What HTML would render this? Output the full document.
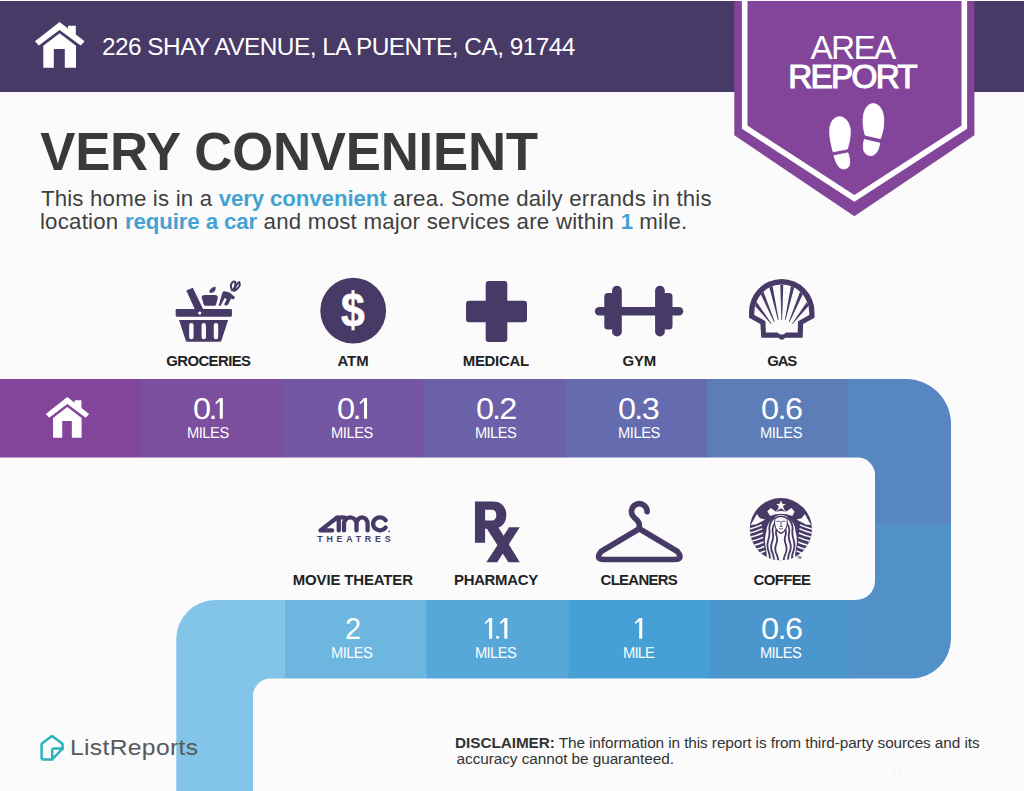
<!DOCTYPE html>
<html><head><meta charset="utf-8">
<style>
html,body{margin:0;padding:0;}
body{width:1024px;height:791px;overflow:hidden;background:#fbfbfb;font-family:"Liberation Sans",sans-serif;position:relative;}
.abs{position:absolute;white-space:nowrap;}
#hdr{left:0;top:1px;width:1024px;height:90.7px;background:#473a66;}
#addr{left:102px;top:33px;font-size:23px;line-height:26px;color:#fff;}
#title{left:38px;top:124px;font-size:49px;line-height:54px;font-weight:bold;color:#3a3a3c;}
.p{left:40px;font-size:21.5px;line-height:24px;color:#3f3f41;}
.p b{color:#44a2d2;letter-spacing:-0.1px;}
.lab{font-size:14.5px;line-height:16px;font-weight:bold;color:#222;}
.num{font-size:27px;line-height:28px;color:#fff;}
.mi{font-size:14.5px;line-height:16px;color:#fff;}
.disc{color:#333;}
#lr{left:72px;top:733px;font-size:25px;line-height:30px;color:#58595b;}
/*FIT*/
#addr{left:101.9px;top:32.6px;font-size:24.42px;line-height:28px;letter-spacing:-0.525px;}
#title{left:40.2px;top:120.7px;font-size:52.75px;line-height:61px;letter-spacing:-0.243px;}
#p1{left:40.9px;top:185.7px;font-size:22.25px;line-height:26px;letter-spacing:0.187px;}
#p2{left:39.9px;top:208.6px;font-size:22.25px;line-height:26px;letter-spacing:0.237px;}
#area{left:810.6px;top:27.5px;font-size:33.48px;line-height:39px;letter-spacing:-1.8px;}
#report{left:788.3px;top:57.8px;font-size:33.33px;line-height:38px;letter-spacing:-1.77px;}
#l1{left:166.2px;top:351.5px;font-size:14.93px;line-height:17px;letter-spacing:-0.587px;}
#l2{left:337.4px;top:351.5px;font-size:14.93px;line-height:17px;letter-spacing:0.0px;}
#l3{left:462.8px;top:351.5px;font-size:14.93px;line-height:17px;letter-spacing:-0.283px;}
#l4{left:622.6px;top:351.5px;font-size:14.93px;line-height:17px;letter-spacing:-0.25px;}
#l5{left:767.2px;top:351.5px;font-size:14.93px;line-height:17px;letter-spacing:-1.15px;}
#l6{left:292.8px;top:570.8px;font-size:14.93px;line-height:17px;letter-spacing:-0.117px;}
#l7{left:454.0px;top:570.8px;font-size:14.93px;line-height:17px;letter-spacing:-0.3px;}
#l8{left:600.6px;top:570.8px;font-size:14.93px;line-height:17px;letter-spacing:-0.7px;}
#l9{left:753.6px;top:570.8px;font-size:14.93px;line-height:17px;letter-spacing:-0.62px;}
#n1{left:192.6px;top:391.8px;font-size:30.0px;line-height:34px;letter-spacing:-2.278px;transform-origin:0 0;transform:rotate(0.1deg) scale(1.08,1.0);}
#m1{left:187.2px;top:423.8px;font-size:15.8px;line-height:18px;letter-spacing:-0.505px;transform-origin:0 0;transform:rotate(0.1deg) scale(0.93,1.0);}
#n2{left:336.8px;top:391.8px;font-size:30.0px;line-height:34px;letter-spacing:-2.278px;transform-origin:0 0;transform:rotate(0.1deg) scale(1.08,1.0);}
#m2{left:331.4px;top:423.8px;font-size:15.8px;line-height:18px;letter-spacing:-0.452px;transform-origin:0 0;transform:rotate(0.1deg) scale(0.93,1.0);}
#n3{left:475.8px;top:391.8px;font-size:30.0px;line-height:34px;letter-spacing:-1.713px;transform-origin:0 0;transform:rotate(0.1deg) scale(1.08,1.0);}
#m3{left:475.0px;top:423.8px;font-size:15.8px;line-height:18px;letter-spacing:-0.64px;transform-origin:0 0;transform:rotate(0.1deg) scale(0.93,1.0);}
#n4{left:617.8px;top:391.8px;font-size:30.0px;line-height:34px;letter-spacing:-1.528px;transform-origin:0 0;transform:rotate(0.1deg) scale(1.08,1.0);}
#m4{left:617.7px;top:423.8px;font-size:15.8px;line-height:18px;letter-spacing:-0.478px;transform-origin:0 0;transform:rotate(0.1deg) scale(0.93,1.0);}
#n5{left:761.2px;top:391.8px;font-size:30.0px;line-height:34px;letter-spacing:-1.343px;transform-origin:0 0;transform:rotate(0.1deg) scale(1.08,1.0);}
#m5{left:760.4px;top:423.8px;font-size:15.8px;line-height:18px;letter-spacing:-0.425px;transform-origin:0 0;transform:rotate(0.1deg) scale(0.93,1.0);}
#n6{left:344.8px;top:611.6px;font-size:30.0px;line-height:34px;letter-spacing:0px;transform-origin:0 0;transform:rotate(0.1deg) scale(0.96,1.0);}
#m6{left:331.4px;top:643.6px;font-size:15.8px;line-height:18px;letter-spacing:-0.613px;transform-origin:0 0;transform:rotate(0.1deg) scale(0.93,1.0);}
#m7{left:475.0px;top:643.6px;font-size:15.8px;line-height:18px;letter-spacing:-0.64px;transform-origin:0 0;transform:rotate(0.1deg) scale(0.93,1.0);}
#m8{left:622.6px;top:643.6px;font-size:15.8px;line-height:18px;letter-spacing:-0.889px;transform-origin:0 0;transform:rotate(0.1deg) scale(0.93,1.0);}
#n9{left:760.9px;top:611.6px;font-size:30.0px;line-height:34px;letter-spacing:-1.389px;transform-origin:0 0;transform:rotate(0.1deg) scale(1.08,1.0);}
#m9{left:760.3px;top:643.6px;font-size:15.8px;line-height:18px;letter-spacing:-0.64px;transform-origin:0 0;transform:rotate(0.1deg) scale(0.93,1.0);}
#lr{left:70.2px;top:734.4px;font-size:22.83px;line-height:26px;letter-spacing:0.302px;transform-origin:0 0;transform:scale(1.08,1.0);}
#dollar{left:341.0px;top:282.1px;font-size:48.23px;line-height:55px;letter-spacing:0px;transform-origin:0 0;transform:scale(0.8852,1.0);}
#d1{left:455.1px;top:733.9px;font-size:15.36px;line-height:18px;letter-spacing:-0.091px;}
#d2{left:456.6px;top:749.7px;font-size:15.36px;line-height:18px;letter-spacing:-0.072px;}
/*ENDFIT*/
</style></head><body>
<!-- BAND -->
<svg class="abs" style="left:0;top:0" width="1024" height="791" viewBox="0 0 1024 791">
<!-- top row -->
<rect x="0" y="379" width="140" height="78.5" fill="#82459a"/>
<rect x="139.5" y="379" width="144" height="78.5" fill="#7b4e9e"/>
<rect x="282.5" y="379" width="142" height="78.5" fill="#7556a2"/>
<rect x="423.5" y="379" width="143" height="78.5" fill="#6b61a9"/>
<rect x="565.5" y="379" width="143" height="78.5" fill="#646bae"/>
<rect x="707" y="379" width="142" height="78.5" fill="#5c7db8"/>
<path d="M848 379 H906 A45 45 0 0 1 951 424 V524.5 H875 V475 A17.5 17.5 0 0 0 857.5 457.5 H848 Z" fill="#5886c1"/>
<path d="M875 524 H951 V638.5 A40 40 0 0 1 911 678.5 H849 V600 H856 A19 19 0 0 0 875 581 Z" fill="#5290c8"/>
<rect x="709" y="600" width="140.5" height="78.5" fill="#4b96cd"/>
<rect x="567.7" y="600" width="142" height="78.5" fill="#46a0d6"/>
<rect x="425.7" y="600" width="143" height="78.5" fill="#57a8d8"/>
<rect x="283.5" y="600" width="143" height="78.5" fill="#6cb6e0"/>
<path d="M285 600 H215.3 A39 39 0 0 0 176.3 639 V791 H253 V696 A17.5 17.5 0 0 1 270.5 678.5 H285 Z" fill="#82c5e8"/>
</svg>

<div id="hdr" class="abs"></div>
<div id="addr" class="abs">226 SHAY AVENUE, LA PUENTE, CA, 91744</div>
<div id="title" class="abs">VERY CONVENIENT</div>
<div class="abs p" id="p1">This home is in a <b>very convenient</b> area. Some daily errands in this</div>
<div class="abs p" id="p2">location <b>require a car</b> and most major services are within <b>1</b> mile.</div>

<!-- badge -->
<svg class="abs" style="left:720px;top:0" width="270" height="230" viewBox="720 0 270 230">
<path d="M734.3 0 H974.4 V135.3 L854.35 216.2 L734.3 135.3 Z" fill="#82459a"/>
<path d="M744.7 -2 V127.2 L854.35 198.4 L964.3 127.2 V-2" fill="none" stroke="#fff" stroke-width="5.6"/>
</svg>
<div class="abs" id="area" style="color:#fff;">AREA</div>
<div class="abs" id="report" style="color:#fff;-webkit-text-stroke:1.15px #fff;">REPORT</div>


<!-- ICONS -->
<svg class="abs" id="icons" style="left:0;top:0" width="1024" height="791" viewBox="0 0 1024 791">
<defs>
<g id="house">
<path d="M59.6 22 L84.6 41.2 L80.7 45.5 L59.6 29.9 L38.8 45.5 L35 41.2 Z"/>
<path d="M68 25.8 H75.8 V35.5 L68 29.5 Z"/>
<path d="M59.6 33.3 L76 45.7 V67.8 H64.8 V49.1 H53.8 V67.8 H43.3 V45.7 Z"/>
</g>
</defs>
<use href="#house" fill="#fff"/>
<use href="#house" fill="#fff" transform="translate(67.3 396.9) scale(0.873 0.89) translate(-59.6 -22)"/>

<!-- footprints : zoom coords origin (820,95) scale 9.893 -->
<g transform="translate(820 95) scale(0.10108)" fill="#fff" stroke="#fff" stroke-width="8" stroke-linejoin="round">
<path d="M130 562 C105 480 90 390 98 320 C108 250 150 215 195 215 C250 215 290 270 299 340 C305 410 288 480 270 535 Z"/>
<path d="M138 600 L276 572 C292 620 300 660 290 695 C280 725 250 735 222 730 C185 722 160 680 138 600 Z"/>
<path d="M447 397 C425 330 420 250 432 190 C448 120 485 85 525 85 C580 85 620 140 630 220 C638 300 618 380 598 432 Z"/>
<path d="M438 440 L590 476 C585 530 565 580 520 598 C480 608 445 585 432 545 C424 510 430 470 438 440 Z"/>
</g>

<!-- ATM -->
<circle cx="353.2" cy="310.7" r="32.9" fill="#473a66"/>
<!-- MEDICAL -->
<path d="M488.700 281 H504.300 Q507.300 281 507.300 284 V300.700 H524 Q527 300.700 527 303.700 V319.300 Q527 322.300 524 322.300 H507.300 V339 Q507.300 342 504.300 342 H488.700 Q485.700 342 485.700 339 V322.300 H469 Q466 322.300 466 319.300 V303.700 Q466 300.700 469 300.700 H485.700 V284 Q485.700 281 488.700 281 Z" fill="#473a66"/>
<!-- GYM -->
<g fill="#473a66">
<rect x="594.9" y="307" width="88.3" height="8.6" rx="4.3"/>
<rect x="612.1" y="285.8" width="9.7" height="50.7" rx="4.8"/>
<rect x="655.1" y="285.8" width="9.7" height="50.7" rx="4.8"/>
<rect x="604.3" y="293" width="10" height="36.5" rx="3.5"/>
<rect x="662.5" y="293" width="10" height="36.5" rx="3.5"/>
</g>
<!-- Rx : zoom coords origin (465,495) scale 10.55 -->
<g transform="translate(465 495) scale(0.09479)" fill="#473a66">
<path fill-rule="evenodd" d="M105 68 H295 C385 68 436 130 436 212 C436 295 385 356 295 356 H212 V505 H105 Z M212 155 V270 H285 C315 270 330 245 330 212 C330 180 315 155 285 155 Z"/>
<path d="M228 352 L345 330 L578 710 L458 710 Z"/>
<path d="M465 340 H578 L340 710 H225 Z"/>
</g>
<!-- hanger -->
<g fill="none" stroke="#473a66" stroke-width="5.7" stroke-linecap="round" stroke-linejoin="round">
<path d="M647.1 511.6 A7.8 7.8 0 1 0 633.8 517.1 C636 520 639.3 520.5 639.3 525 V528.7"/>
<path d="M639.3 528.7 L601.5 551.2 Q594.5 559.5 604 559.5 H674.5 Q684 559.5 677 551.2 Z"/>
</g>

<!-- SHELL -->
<g transform="translate(744 274) scale(0.09099)">
<clipPath id="shin"><path d="M113 425 A302 310 0 0 1 717 425 V450 L594 518 L590 642 H462 Q415 690 368 642 H240 L236 518 L113 450 Z"/></clipPath>
<path fill="#473a66" d="M55 420 A360 365 0 0 1 775 420 V482 L650 550 L645 700 H452 Q415 745 378 700 H190 L180 550 L55 482 Z"/>
<path fill="#fbfbfb" d="M113 425 A302 310 0 0 1 717 425 V450 L594 518 L590 642 H462 Q415 690 368 642 H240 L236 518 L113 450 Z"/>
<g fill="#473a66" clip-path="url(#shin)">
<polygon points="398,95 432,95 419,505 411,505"/>
<polygon points="274,129 312,121 381,504 373,506"/>
<polygon points="175,203 211,187 337,523 329,527"/>
<polygon points="93,318 127,292 303,546 297,550"/>
<polygon points="518,121 556,129 457,506 449,504"/>
<polygon points="619,187 655,203 501,527 493,523"/>
<polygon points="703,292 737,318 533,550 527,546"/>
</g>
</g>
<!-- BASKET -->
<g transform="translate(168 272) scale(0.09615)" fill="#473a66">
<rect x="80" y="385" width="585" height="80" rx="14"/>
<path d="M115 500 H625 L556 712 Q552 726 538 726 H202 Q188 726 184 712 Z"/>
<g fill="#fbfbfb"><rect x="220" y="530" width="46" height="170" rx="23"/><rect x="349" y="530" width="46" height="170" rx="23"/><rect x="476" y="530" width="46" height="170" rx="23"/></g>
<path d="M190 192 L258 163 L372 400 L290 410 Z"/>
<circle cx="330" cy="427" r="17" fill="#fbfbfb"/>
<path d="M350 265 Q352 240 385 240 H490 Q520 240 518 268 L500 340 Q497 352 480 352 H392 Q376 352 372 338 Z"/>
<path d="M430 212 Q425 170 495 150 Q500 200 462 215 Q445 220 430 212 Z"/>
<path d="M527 352 L565 215 Q570 200 590 200 L640 212 L698 262 L680 285 L655 275 L625 340 L595 352 L585 335 L612 280 L590 270 L548 352 Z"/>
<g fill="none" stroke="#473a66" stroke-width="21" stroke-linejoin="round" stroke-linecap="round"><path d="M668 192 Q640 140 668 108 Q690 88 702 108 Q706 150 678 190"/><path d="M688 192 Q705 130 742 104 Q752 130 740 150 Q722 178 690 196"/></g>
</g>

<!-- AMC -->
<g transform="translate(314 511) scale(0.078125)" fill="none" stroke="#473a66" stroke-width="55" stroke-linecap="round" stroke-linejoin="round">
<path d="M231 248 H83 L296 84 Q310 78 317 92 V248"/>
<path d="M384 248 V165 A80 84 0 0 1 544 165 V248 M544 165 A71 84 0 0 1 686 165 V248 M317 95 Q350 70 420 95"/>
<path d="M917 118 A88 83 0 1 0 917 211"/>
<circle cx="962" cy="262" r="4" stroke-width="14"/>
</g>
<text id="theatres" x="317.3" y="542.4" font-family="Liberation Sans, sans-serif" font-weight="bold" font-size="8.8" fill="#473a66" textLength="73.2" lengthAdjust="spacing">THEATRES</text>
<!-- STARBUCKS -->
<g transform="translate(745 493) scale(0.09099)">
<clipPath id="sbc"><circle cx="394" cy="398" r="342"/></clipPath>
<circle cx="394" cy="398" r="342" fill="#473a66"/>
<g clip-path="url(#sbc)">
<!-- hair+body white mass -->
<path fill="#fbfbfb" d="M330 262 Q395 215 462 262 Q555 330 555 420 Q585 520 558 620 Q545 700 555 760 H235 Q245 700 232 620 Q205 520 235 420 Q235 330 330 262 Z"/>
<!-- dark wavy hair lines -->
<g fill="none" stroke="#473a66" stroke-width="20" stroke-linecap="round">
<path d="M318 275 Q262 330 268 400 Q275 460 255 520 Q235 590 262 650 Q280 700 270 750"/>
<path d="M330 330 Q295 380 305 430 Q318 490 295 545 Q275 610 305 665 Q322 710 315 750"/>
<path d="M345 400 Q335 440 348 475 Q362 520 340 570 Q322 630 350 680 Q368 720 362 750"/>
<path d="M472 275 Q528 330 522 400 Q515 460 535 520 Q555 590 528 650 Q510 700 520 750"/>
<path d="M460 330 Q495 380 485 430 Q472 490 495 545 Q515 610 485 665 Q468 710 475 750"/>
<path d="M445 400 Q455 440 442 475 Q428 520 450 570 Q468 630 440 680 Q422 720 428 750"/>
</g>
<!-- dark beside the face -->
<path fill="#473a66" d="M325 270 Q312 330 330 385 Q345 425 372 440 L395 452 L418 440 Q445 425 460 385 Q478 330 465 270 Q395 225 325 270 Z"/>
<!-- face -->
<path fill="#fbfbfb" d="M334 285 Q395 245 456 285 Q466 340 448 385 Q430 420 395 435 Q360 420 342 385 Q324 340 334 285 Z"/>
<g fill="none" stroke="#473a66" stroke-width="9" stroke-linecap="round">
<path d="M350 312 Q368 304 385 314"/><path d="M405 314 Q422 304 440 312"/>
<path d="M396 318 V362 M384 368 H408"/><path d="M378 392 Q395 400 412 392"/>
</g>
<!-- crown + star -->
<path fill="#fbfbfb" d="M245 200 L285 166 L335 204 L395 150 L455 204 L510 166 L545 205 L520 252 Q395 205 275 252 Z"/>
<polygon fill="#fbfbfb" points="395,81 409,118 448,120 418,144 428,182 395,161 362,182 372,144 342,120 381,118"/>
<path fill="#473a66" d="M340 205 L395 168 L450 205 Q395 190 340 205 Z"/>
<!-- tails: fins -->
<path fill="#fbfbfb" d="M130 232 L165 278 L222 292 L120 345 L62 352 Q95 300 130 232 Z"/>
<path fill="#fbfbfb" d="M658 232 L623 278 L566 292 L668 345 L726 352 Q693 300 658 232 Z"/>
<!-- tails: stripes -->
<g fill="none" stroke="#fbfbfb" stroke-width="17" stroke-linecap="butt">
<path d="M40 398 Q120 378 185 350"/><path d="M40 442 Q125 425 190 392"/><path d="M45 488 Q130 470 195 440"/><path d="M60 534 Q140 515 200 488"/><path d="M85 580 Q150 562 205 538"/><path d="M115 624 Q165 608 212 588"/><path d="M150 664 Q190 650 222 636"/>
<path d="M748 398 Q668 378 603 350"/><path d="M748 442 Q663 425 598 392"/><path d="M743 488 Q658 470 593 440"/><path d="M728 534 Q648 515 588 488"/><path d="M703 580 Q638 562 583 538"/><path d="M673 624 Q623 608 576 588"/><path d="M638 664 Q598 650 566 636"/>
</g>
</g>
<text x="575" y="728" font-family="Liberation Sans, sans-serif" font-size="30" font-weight="bold" fill="#473a66">TM</text>
</g>
<!-- digit 1 glyphs -->
<defs><path id="one" d="M4.5 0 H7.55 V20.8 H4.5 V3 L0.8 6.1 L0 4.7 Z"/></defs>
<g fill="#fff">
<use href="#one" x="215.3" y="398.05"/>
<use href="#one" x="359.5" y="398.05"/>
<use href="#one" x="484.65" y="617.95"/>
<use href="#one" x="499.8" y="617.95"/>
<circle cx="497.6" cy="637.2" r="1.55"/>
<use href="#one" x="634.7" y="617.95"/>
</g>
<!-- ListReports logo -->
<g fill="none" stroke="#2bb3c0" stroke-width="2.5" stroke-linejoin="round" stroke-linecap="round">
<path d="M50.6 737 Q52 735.8 53.4 737 L61.6 743 Q62.6 743.9 62.6 745 V748.6 L52.2 759.4 H43.6 Q41.6 759.4 41.6 757.4 V745 Q41.6 743.9 42.6 743 Z"/>
<path d="M62.6 748.5 H54.2 Q52.2 748.5 52.2 750.5 V759.4"/>
</g>
</svg>
<div class="abs" id="dollar" style="color:#fff;font-weight:bold;-webkit-text-stroke:0.6px #fff;">$</div>
<!-- /ICONS -->
<!-- TEXTBLOCK -->
<div class="abs lab" id="l1">GROCERIES</div>
<div class="abs lab" id="l2">ATM</div>
<div class="abs lab" id="l3">MEDICAL</div>
<div class="abs lab" id="l4">GYM</div>
<div class="abs lab" id="l5">GAS</div>
<div class="abs lab" id="l6">MOVIE THEATER</div>
<div class="abs lab" id="l7">PHARMACY</div>
<div class="abs lab" id="l8">CLEANERS</div>
<div class="abs lab" id="l9">COFFEE</div>
<div class="abs num" id="n1">0.</div><div class="abs mi" id="m1">MILES</div>
<div class="abs num" id="n2">0.</div><div class="abs mi" id="m2">MILES</div>
<div class="abs num" id="n3">0.2</div><div class="abs mi" id="m3">MILES</div>
<div class="abs num" id="n4">0.3</div><div class="abs mi" id="m4">MILES</div>
<div class="abs num" id="n5">0.6</div><div class="abs mi" id="m5">MILES</div>
<div class="abs num" id="n6">2</div><div class="abs mi" id="m6">MILES</div>
<div class="abs mi" id="m7">MILES</div>
<div class="abs mi" id="m8">MILE</div>
<div class="abs num" id="n9">0.6</div><div class="abs mi" id="m9">MILES</div>
<!-- /TEXTBLOCK -->

<div id="lr" class="abs">ListReports</div>
<div id="d1" class="abs disc"><b>DISCLAIMER:</b> The information in this report is from third-party sources and its</div>
<div id="d2" class="abs disc">accuracy cannot be guaranteed.</div>
<div id="wm" class="abs" style="left:842px;top:764px;font-family:'Liberation Serif',serif;font-size:23px;line-height:24px;color:#fff;text-shadow:0 0 1px #eee;">CRMLS</div>
<div class="abs" style="left:0;top:0;width:1024px;height:1px;background:#fdfdfd"></div>
</body></html>
